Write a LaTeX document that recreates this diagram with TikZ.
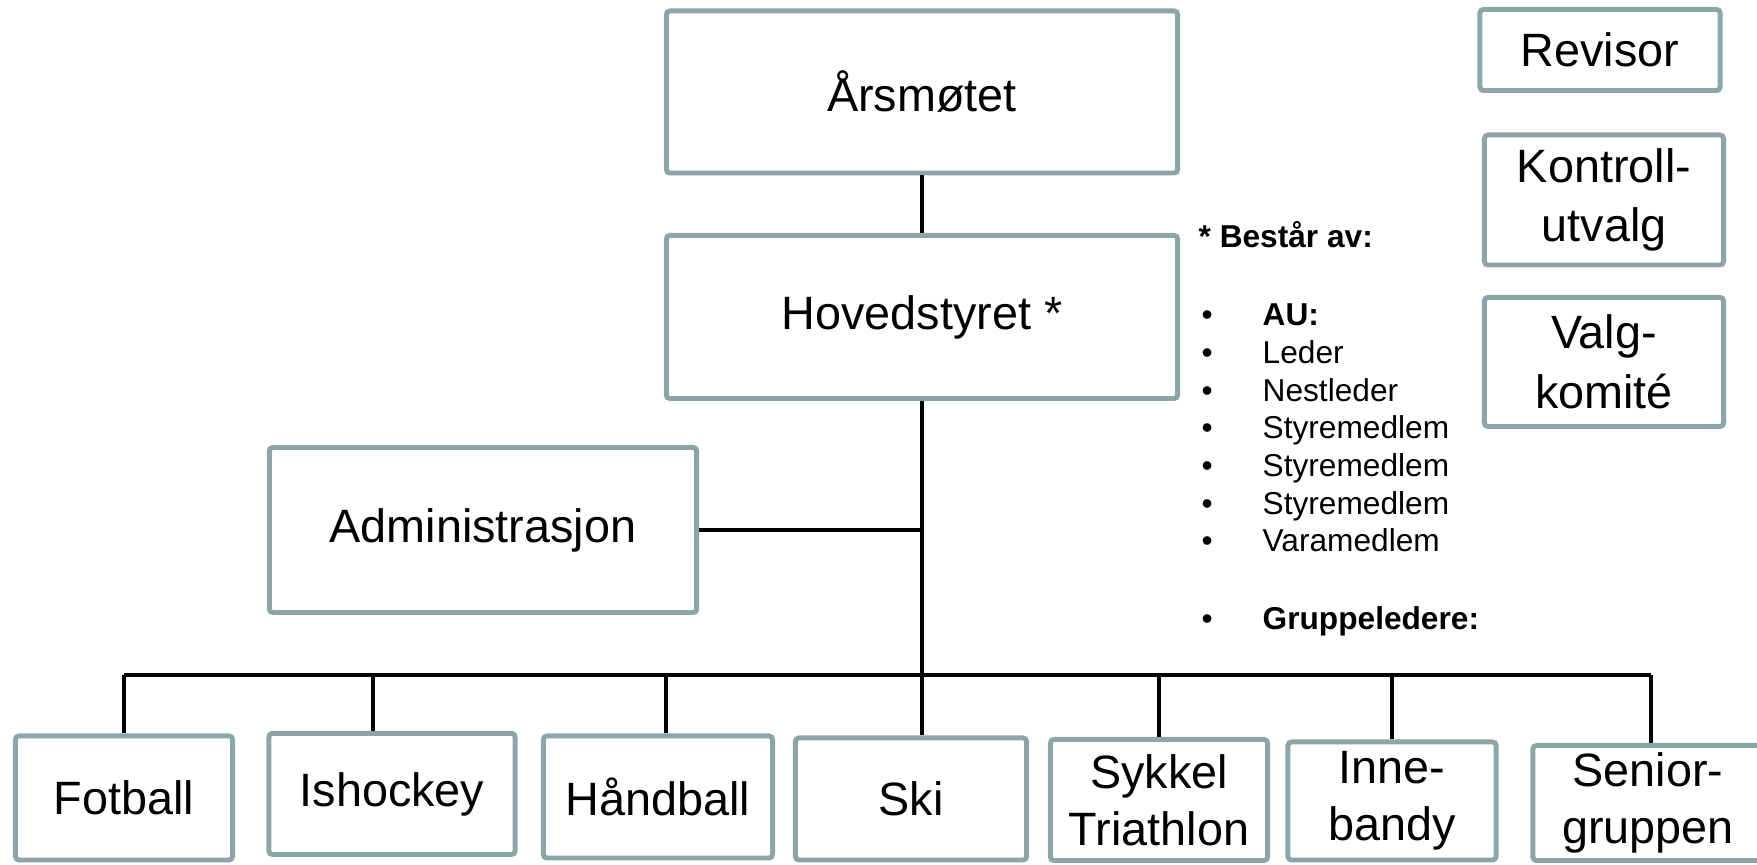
\documentclass[tikz,border=0pt]{standalone}
\usepackage{fontspec}
\setmainfont{Liberation Sans}
\definecolor{boxgrey}{RGB}{139,165,168}

\begin{document}
\begin{tikzpicture}[x=0.01cm, y=-0.01cm,
  box/.style={draw=boxgrey, line width=1.4pt, rounded corners=1pt, inner sep=0pt, align=center, font=\fontsize{13.3}{16.2}\selectfont},
  link/.style={line width=0.9pt},
  item/.style={anchor=base west, inner sep=0pt, font=\fontsize{9}{10.8}\selectfont}]
\useasboundingbox (0,0) rectangle (1757,865);

\node[box, minimum width=5.11cm, minimum height=1.62cm] (aarsmote) at (922,92) {Årsmøtet};
\node[box, minimum width=5.11cm, minimum height=1.63cm] (hoved) at (922,317) {Hovedstyret *};
\node[box, minimum width=4.27cm, minimum height=1.65cm] (admin) at (483,530) {Administrasjon};

\node[box, minimum width=2.40cm, minimum height=0.81cm] (revisor) at (1600,50) {Revisor};
\node[box, minimum width=2.39cm, minimum height=1.30cm, font=\fontsize{13.3}{17}\selectfont] (kontroll) at (1604,200) {Kontroll-\\utvalg};
\node[box, minimum width=2.39cm, minimum height=1.29cm, font=\fontsize{13.3}{17}\selectfont] (valg) at (1604,362) {Valg-\\komité};

% gruppene
\node[box, minimum width=2.17cm, minimum height=1.24cm] (fotball) at (124,798) {Fotball};
\node[box, minimum width=2.46cm, minimum height=1.21cm] (isho) at (392,794) {Ishockey};
\node[box, minimum width=2.29cm, minimum height=1.22cm] (haandball) at (658,797) {Håndball};
\node[box, minimum width=2.31cm, minimum height=1.22cm] (ski) at (911,799) {Ski};
\node[box, minimum width=2.17cm, minimum height=1.21cm] (sykkel) at (1159,800) {Sykkel\\Triathlon};
\node[box, minimum width=2.08cm, minimum height=1.18cm] (inne) at (1392,801) {Inne-\\bandy};
\node[box, minimum width=2.30cm, minimum height=1.15cm] (senior) at (1648,803) {Senior-\\gruppen};

% linjer
\coordinate (bus) at (921,675);
\draw[link] (aarsmote) -- (hoved);
\draw[link] (hoved.south) -- (hoved.south |- ski.north);
\draw[link] (admin.east) -- (admin.east -| hoved.south);
\draw[link] (fotball.north |- bus) -- ([xshift=0.03cm]senior.north |- bus);
\foreach \g in {fotball, sykkel, inne}
  \draw[link] (\g.north) -- (\g.north |- bus);
\draw[link] ([xshift=-0.19cm]isho.north) -- ([xshift=-0.19cm]isho.north |- bus);
\draw[link] ([xshift=0.08cm]haandball.north) -- ([xshift=0.08cm]haandball.north |- bus);
\draw[link] ([xshift=0.03cm]senior.north) -- ([xshift=0.03cm]senior.north |- bus);

% hovedstyret
\node[item, font=\fontsize{9}{10.8}\selectfont\bfseries] (bestaar) at (1198,248) {* Består av:};
\foreach \t [count=\i] in {\textbf{AU:}, Leder, Nestleder, Styremedlem, Styremedlem, Styremedlem, Varamedlem} {
  \node[item] (dot\i) at (1201,288+37.7*\i) {\textbullet};
  \node[item] (txt\i) at (1262,288+37.7*\i) {\t};
}
\node[item] (dot8) at (1201,630) {\textbullet};
\node[item] (txt8) at (1262,630) {\textbf{Gruppeledere:}};
\end{tikzpicture}
\end{document}
